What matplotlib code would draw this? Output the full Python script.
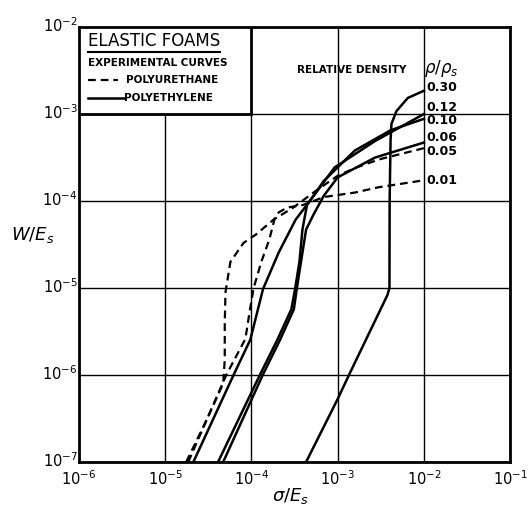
import matplotlib
matplotlib.use('Agg')
import matplotlib.pyplot as plt
from matplotlib.patches import Rectangle
from matplotlib.transforms import ScaledTranslation

# data: sigma/Es (x) and W/Es (y)
pu_005_x = [1.75e-5, 3.0e-5, 4.7e-5, 4.9e-5, 4.9e-5, 5.0e-5, 5.7e-5, 8.1e-5, 1.12e-4,
            1.8e-4, 3.0e-4, 5.7e-4, 1.0e-3, 1.6e-3, 3.0e-3, 1.0e-2]
pu_005_y = [1e-7, 3e-7, 8e-7, 1.5e-6, 4e-6, 9e-6, 2.0e-5, 3.3e-5, 4.1e-5,
            6.1e-5, 8.3e-5, 1.33e-4, 1.95e-4, 2.4e-4, 3.0e-4, 4.05e-4]

pu_001_x = [1.85e-5, 3.0e-5, 5.1e-5, 8.5e-5, 9.7e-5, 1.06e-4, 1.3e-4, 1.61e-4, 1.85e-4,
            2.07e-4, 2.6e-4, 3.96e-4, 6.9e-4, 1.58e-3, 3.0e-3, 1.0e-2]
pu_001_y = [1e-7, 3e-7, 1e-6, 2.6e-6, 6e-6, 1e-5, 2e-5, 3.6e-5, 6.2e-5,
            7.4e-5, 8.4e-5, 9.0e-5, 1.11e-4, 1.25e-4, 1.44e-4, 1.73e-4]

pe_012_x = [2.12e-5, 6.2e-5, 9.7e-5, 1.36e-4, 2.07e-4, 3.25e-4, 5.25e-4, 9.2e-4, 2.72e-3, 1.0e-2]
pe_012_y = [1e-7, 1e-6, 2.55e-6, 9.7e-6, 2.56e-5, 6.1e-5, 1.14e-4, 2.43e-4, 4.9e-4, 1.0e-3]

pe_010_x = [4.1e-5, 1.25e-4, 2.0e-4, 2.9e-4, 3.2e-4, 3.6e-4, 3.9e-4, 4.4e-4, 6.9e-4,
            1.58e-3, 4.1e-3, 1.0e-2]
pe_010_y = [1e-7, 1e-6, 2.55e-6, 5.7e-6, 9.7e-6, 2e-5, 4.7e-5, 9e-5, 1.7e-4,
            3.8e-4, 6.5e-4, 8.8e-4]

pe_006_x = [4.7e-5, 1.35e-4, 2.15e-4, 3.1e-4, 3.35e-4, 3.75e-4, 4.3e-4, 5.25e-4, 6.9e-4,
            1.0e-3, 2.72e-3, 1.0e-2]
pe_006_y = [1e-7, 1e-6, 2.55e-6, 5.7e-6, 9.7e-6, 2e-5, 4.7e-5, 7e-5, 1.15e-4,
            1.87e-4, 3.16e-4, 4.7e-4]

pe_030_x = [4.3e-4, 1.0e-3, 1.35e-3, 3.3e-3, 3.77e-3, 3.98e-3, 4.0e-3, 4.1e-3, 4.2e-3,
            4.8e-3, 6.5e-3, 1.0e-2]
pe_030_y = [1e-7, 5.3e-7, 1e-6, 6.3e-6, 8.3e-6, 1e-5, 1e-4, 5e-4, 7.7e-4,
            1.08e-3, 1.53e-3, 1.85e-3]

density_labels = ['0.30', '0.12', '0.10', '0.06', '0.05', '0.01']
label_y = [0.860, 0.816, 0.786, 0.747, 0.713, 0.648]

xticks = [1e-6, 1e-5, 1e-4, 1e-3, 1e-2, 1e-1]
yticks = [1e-7, 1e-6, 1e-5, 1e-4, 1e-3, 1e-2]

fig = plt.figure(figsize=(5.28, 5.12), dpi=100)
ax = fig.add_axes([0.1496, 0.0977, 0.8167, 0.8496])
ax.set_xscale('log')
ax.set_yscale('log')
ax.set_xlim(1e-6, 1e-1)
ax.set_ylim(1e-7, 1e-2)
ax.set_xticks(xticks)
ax.set_yticks(yticks)
ax.minorticks_off()
ax.grid(True, color='black', lw=1.0)
ax.set_axisbelow(True)
ax.tick_params(length=0, labelsize=10.5)
ax.tick_params(axis='x', pad=5)
ax.tick_params(axis='y', pad=1)
for s in ax.spines.values():
    s.set_linewidth(2)
# nudge y labels up a touch so the corner labels don't collide
shift = ScaledTranslation(0, 2 / 72, fig.dpi_scale_trans)
for lab in ax.get_yticklabels():
    lab.set_transform(lab.get_transform() + shift)

dash = dict(color='black', lw=1.6, ls=(0, (3.5, 2.2)))
solid = dict(color='black', lw=1.8)
ax.plot(pu_005_x, pu_005_y, **dash)
ax.plot(pu_001_x, pu_001_y, **dash)
ax.plot(pe_012_x, pe_012_y, **solid)
ax.plot(pe_010_x, pe_010_y, **solid)
ax.plot(pe_006_x, pe_006_y, **solid)
ax.plot(pe_030_x, pe_030_y, **solid)

# legend box
ax.add_patch(Rectangle((1e-6, 1e-3), 1e-4 - 1e-6, 1e-2 - 1e-3, facecolor='white',
                       edgecolor='black', lw=2, zorder=3))
ax.text(0.02, 0.968, 'ELASTIC FOAMS', transform=ax.transAxes, fontsize=12,
        va='center', ha='left', zorder=4)
ax.plot([0.02, 0.328], [0.943, 0.943], transform=ax.transAxes, color='black', lw=1.5,
        zorder=4)
ax.text(0.02, 0.917, 'EXPERIMENTAL CURVES', transform=ax.transAxes, fontsize=7.5,
        fontweight='bold', va='center', ha='left', zorder=4)
ax.plot([0.022, 0.09], [0.878, 0.878], transform=ax.transAxes, zorder=4, **dash)
ax.text(0.11, 0.878, 'POLYURETHANE', transform=ax.transAxes, fontsize=7.5,
        fontweight='bold', va='center', ha='left', zorder=4)
ax.plot([0.022, 0.104], [0.837, 0.837], transform=ax.transAxes, zorder=4, **solid)
ax.text(0.104, 0.837, 'POLYETHYLENE', transform=ax.transAxes, fontsize=7.5,
        fontweight='bold', va='center', ha='left', zorder=4)

ax.text(0.506, 0.90, 'RELATIVE DENSITY', transform=ax.transAxes, fontsize=7.5,
        fontweight='bold', va='center', ha='left')
ax.text(0.80, 0.905, r'$\rho/\rho_s$', transform=ax.transAxes, fontsize=12,
        va='center', ha='left')
for lab, yy in zip(density_labels, label_y):
    ax.text(0.805, yy, lab, transform=ax.transAxes, fontsize=9, fontweight='bold',
            va='center', ha='left')

fig.text(0.063, 0.541, r'$W/E_s$', fontsize=13, ha='center', va='center')
fig.text(0.551, 0.031, r'$\sigma/E_s$', fontsize=13, ha='center', va='center')

fig.savefig('out.png', dpi=100)
